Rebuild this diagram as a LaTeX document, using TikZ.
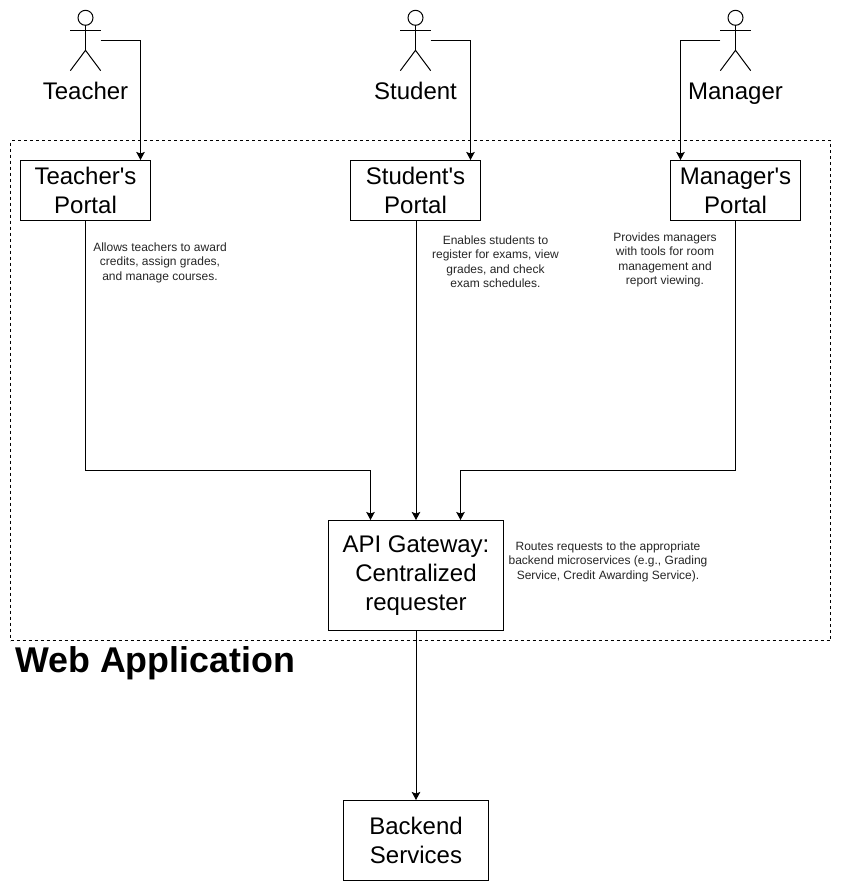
\documentclass[tikz,border=0pt]{standalone}
\usepackage{fontspec}
\setmainfont{Liberation Sans}[Ligatures=TeXOff]
\usetikzlibrary{arrows.meta}
\newcommand{\bigfont}{\fontsize{24}{29}\selectfont}
\newcommand{\smallfont}{\fontsize{12}{14.5}\selectfont}
\tikzset{
  x=1pt,y=-1pt,
  box/.style={draw=black,line width=1pt,align=center,inner sep=0pt,font=\bigfont,fill=white},
  actorbox/.style={minimum width=30pt,minimum height=60pt,inner sep=0pt},
  actorlabel/.style={font=\bigfont,inner sep=0pt,anchor=base},
  note/.style={font=\smallfont,align=center,inner sep=0pt,text=black!85},
  link/.style={draw=black,line width=1pt,-{Stealth[length=8pt,width=8.5pt,inset=1.5pt]}},
}
\newcommand{\stick}[1]{%
  \draw[line width=1pt] ([yshift=-7.5pt]#1.north) circle (7.5pt);
  \draw[line width=1pt] ([yshift=-15pt]#1.north) -- ([yshift=-40pt]#1.north);
  \draw[line width=1pt] ([yshift=-20pt]#1.north west) -- ([yshift=-20pt]#1.north east);
  \draw[line width=1pt] (#1.south west) -- ([yshift=-40pt]#1.north) -- (#1.south east);
}
\begin{document}
\begin{tikzpicture}
\useasboundingbox (0,0) rectangle (842,891);
\fill[white] (0,0) rectangle (842,891);
\node[draw=black,dashed,line width=.8pt,minimum width=820pt,minimum height=500pt,inner sep=0pt] (webapp) at (420.5,390.5) {};
\node[anchor=base west,inner sep=0pt,font=\fontsize{35.8}{43}\selectfont\bfseries] (webtitle) at (15,672) {Web Application};
% actors
\node[actorbox] (teacher) at (85.5,40.5) {};
\node[actorbox] (student) at (415.5,40.5) {};
\node[actorbox] (manager) at (735.5,40.5) {};
\stick{teacher}\stick{student}\stick{manager}
\node[actorlabel] (teacherlabel) at (85.5,99) {Teacher};
\node[actorlabel] (studentlabel) at (415.5,99) {Student};
\node[actorlabel] (managerlabel) at (735.5,99) {Manager};
% portals
\node[box,minimum width=130pt,minimum height=60pt] (tportal) at (85.5,190.5) {Teacher's\\Portal};
\node[box,minimum width=130pt,minimum height=60pt] (sportal) at (415.5,190.5) {Student's\\Portal};
\node[box,minimum width=130pt,minimum height=60pt] (mportal) at (735.5,190.5) {Manager's\\Portal};
\node[box,minimum width=175pt,minimum height=110pt] (gateway) at (416,575.5) {\raisebox{-2pt}{\begin{tabular}{@{}c@{}}API Gateway:\\Centralized\\requester\end{tabular}}};
\node[box,minimum width=145pt,minimum height=80pt] (backend) at (416,840.5) {Backend\\Services};
% notes
\node[note] (tnote) at (160,262.5) {Allows teachers to award\\credits, assign grades,\\and manage courses.};
\node[note] (snote) at (495.5,261.5) {Enables students to\\register for exams, view\\grades, and check\\exam schedules.};
\node[note] (mnote) at (665,260) {Provides managers\\with tools for room\\management and\\report viewing.};
\node[note] (gnote) at (608,561.5) {Routes requests to the appropriate\\backend microservices (e.g., Grading\\Service, Credit Awarding Service).};
% connectors
\draw[link] (teacher.east) -| ([xshift=55pt]tportal.north);
\draw[link] (student.east) -| ([xshift=55pt]sportal.north);
\draw[link] (manager.west) -| ([xshift=-55pt]mportal.north);
\draw[link] (tportal.south) |- (370.5,470.5) -- ([xshift=-45.5pt]gateway.north);
\draw[link] ([xshift=.5pt]sportal.south) -- (gateway.north);
\draw[link] (mportal.south) |- (460.5,470.5) -- ([xshift=44.5pt]gateway.north);
\draw[link] (gateway.south) -- (backend.north);
\end{tikzpicture}
\end{document}
